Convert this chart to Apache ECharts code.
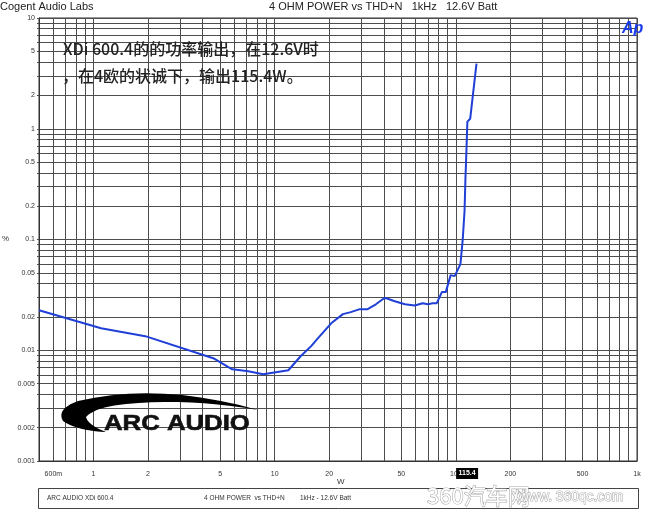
<!DOCTYPE html>
<html>
<head>
<meta charset="utf-8">
<script src="https://cdn.jsdelivr.net/npm/echarts@6/dist/echarts.min.js"></script>
<style>
html,body{margin:0;padding:0;background:#fff;}
#chart{width:650px;height:523px;}
</style>
</head>
<body>
<div id="chart"></div>
<script>
// ---- data ----
const powerW = [0.5, 1.1, 1.93, 4.58, 5.83, 7.15, 8.65, 11.9, 13.9, 15.9, 17.3, 20.5, 23.8, 26.3, 29.5, 32.6, 36.2, 39.6, 41.0, 46, 52.4, 59.3, 65.6, 70, 74.5, 78.5, 83.7, 88, 93.6, 98.5, 106, 109, 111.7, 113, 114.4, 115.8, 120, 130];
const thdPct = [0.023, 0.0158, 0.0134, 0.00847, 0.00673, 0.00646, 0.00607, 0.0066, 0.00883, 0.0109, 0.0128, 0.0175, 0.0212, 0.0221, 0.0235, 0.0235, 0.026, 0.029, 0.0296, 0.0277, 0.026, 0.0254, 0.0266, 0.026, 0.0266, 0.0266, 0.0335, 0.0335, 0.0477, 0.0467, 0.06, 0.097, 0.181, 0.36, 0.632, 1.16, 1.23, 3.87];
const xTickValues = [0.6, 1, 2, 5, 10, 20, 50, 100, 200, 500, 1000];
const xTickLabels = ['600m', '1', '2', '5', '10', '20', '50', '100', '200', '500', '1k'];
const yTickValues = [0.001, 0.002, 0.005, 0.01, 0.02, 0.05, 0.1, 0.2, 0.5, 1, 2, 5, 10];
const yTickLabels = ['0.001', '0.002', '0.005', '0.01', '0.02', '0.05', '0.1', '0.2', '0.5', '1', '2', '5', '10'];
const markerPower = 115.4;
const markerLabel = '115.4';
const titleLeft = 'Cogent Audio Labs';
const titleCenter = '4 OHM POWER vs THD+N   1kHz   12.6V Batt';
const noteLine1 = 'XDi 600.4的的功率输出，在12.6V时';
const noteLine2 = '，在4欧的状诚下，输出115.4W。';
const footerTexts = ['ARC AUDIO XDi 600.4', '4 OHM POWER  vs THD+N', '1kHz - 12.6V Batt'];

// log grid values 1..9 x 10^k
function logGrid(lo, hi) {
  const out = [];
  for (let e = -4; e <= 4; e++) {
    for (let m = 1; m <= 9; m++) {
      const v = +(m * Math.pow(10, e)).toPrecision(6);
      if (v >= lo - 1e-12 && v <= hi + 1e-9) out.push(v);
    }
  }
  return out;
}
const xGrid = logGrid(0.5, 1000);
const yGrid = logGrid(0.001, 10);

// sample quadratic bezier segments into polygon points (logo swoosh)
function quadPoly(start, segs) {
  const pts = [start];
  let p0 = start;
  segs.forEach(([c, p1]) => {
    for (let t = 0.1; t <= 1.0001; t += 0.1) {
      const u = 1 - t;
      pts.push([u * u * p0[0] + 2 * u * t * c[0] + t * t * p1[0], u * u * p0[1] + 2 * u * t * c[1] + t * t * p1[1]]);
    }
    p0 = p1;
  });
  return pts;
}
const swoosh = quadPoly([258, 410], [
  [[160, 382], [78, 401]],
  [[56, 409], [63, 421]],
  [[78, 431], [106, 432]],
  [[88, 425], [86, 417]],
  [[95, 407], [126, 404]],
  [[190, 398], [258, 410]]
]);

const FONT = 'Liberation Sans, Arial, sans-serif';
const GRIDC = '#4d4d4d';

const chart = echarts.init(document.getElementById('chart'), null, {renderer: 'canvas'});
const option = {
  animation: false,
  backgroundColor: '#fff',
  grid: {left: 39, top: 18, right: 13, bottom: 62, show: true, borderColor: '#333', borderWidth: 1},
  xAxis: {
    type: 'log', logBase: 10, min: 0.5, max: 1000,
    axisLine: {show: true, onZero: false, lineStyle: {color: '#333', width: 1}},
    axisTick: {show: false, customValues: xGrid},
    splitLine: {show: true, lineStyle: {color: GRIDC, width: 1}},
    axisLabel: {
      customValues: xTickValues, margin: 10, fontSize: 7, color: '#333', fontFamily: FONT,
      formatter: v => { const i = xTickValues.findIndex(t => Math.abs(t - v) / t < 1e-6); return i >= 0 ? xTickLabels[i] : ''; }
    }
  },
  yAxis: {
    type: 'log', logBase: 10, min: 0.001, max: 10,
    axisLine: {show: true, onZero: false, lineStyle: {color: '#333', width: 1}},
    axisTick: {show: true, length: 2, customValues: yGrid, lineStyle: {color: GRIDC}},
    splitLine: {show: true, lineStyle: {color: GRIDC, width: 1}},
    axisLabel: {
      customValues: yTickValues, margin: 4, fontSize: 7, color: '#333', fontFamily: FONT,
      formatter: v => { const i = yTickValues.findIndex(t => Math.abs(t - v) / t < 1e-6); return i >= 0 ? yTickLabels[i] : ''; }
    }
  },
  series: [{
    type: 'line',
    data: powerW.map((w, i) => [w, thdPct[i]]),
    showSymbol: false,
    lineStyle: {color: '#1f3fd6', width: 2},
    z: 5
  }]
};
chart.setOption(option);

const mp = chart.convertToPixel({gridIndex: 0}, [markerPower, 0.001]);

chart.setOption({
  graphic: [
    {type: 'text', x: 0, y: 1, style: {text: titleLeft, font: '11px ' + FONT, fill: '#222'}},
    {type: 'text', x: 269, y: 1, style: {text: titleCenter, font: '11px ' + FONT, fill: '#222'}},
    {type: 'text', x: 2, y: 235, style: {text: '%', font: '8px ' + FONT, fill: '#333'}},
    {type: 'text', x: 337, y: 478, style: {text: 'W', font: '8px ' + FONT, fill: '#333'}},
    {type: 'text', x: 63, y: 41, z: 10, style: {text: noteLine1, font: '500 16px "Noto Sans CJK SC", sans-serif', fill: '#222'}},
    {type: 'text', x: 62, y: 68, z: 10, style: {text: noteLine2, font: '500 16px "Noto Sans CJK SC", sans-serif', fill: '#222'}},
    {type: 'text', x: 622, y: 21, z: 10, style: {text: 'Ap', font: 'italic bold 16px ' + FONT, fill: '#1a3be8'}},
    // marker box on x axis
    {type: 'rect', z: 20, shape: {x: mp[0] - 11, y: mp[1] + 7, width: 22, height: 11}, style: {fill: '#000'}},
    {type: 'text', z: 21, x: mp[0], y: mp[1] + 12.5, style: {text: markerLabel, font: 'bold 7px ' + FONT, fill: '#fff', align: 'center', verticalAlign: 'middle'}},
    // footer box
    {type: 'rect', shape: {x: 38.5, y: 488.5, width: 600, height: 20}, style: {fill: 'none', stroke: '#444', lineWidth: 1}},
    {type: 'text', x: 47, y: 495, style: {text: footerTexts[0], font: '6.5px ' + FONT, fill: '#333'}},
    {type: 'text', x: 204, y: 495, style: {text: footerTexts[1], font: '6.5px ' + FONT, fill: '#333'}},
    {type: 'text', x: 300, y: 495, style: {text: footerTexts[2], font: '6.5px ' + FONT, fill: '#333'}},
    // watermark
    {type: 'text', x: 427, y: 485, z: 30, style: {text: '360汽车网', font: '22px "Noto Sans CJK SC", sans-serif', fill: '#fff', stroke: '#aaa', lineWidth: 1.2}},
    {type: 'text', x: 519, y: 489, z: 30, scaleX: 0.92, style: {text: 'www. 360qc.com', font: '15px ' + FONT, fill: '#fff', stroke: '#aaa', lineWidth: 1.2}},
    // ARC AUDIO logo
    {type: 'polygon', z: 10, shape: {points: swoosh}, style: {fill: '#000'}},
    {type: 'text', z: 10, x: 104, y: 413, scaleX: 1.17, style: {text: 'ARC AUDIO', font: '900 22px ' + FONT, fill: '#111', stroke: '#111', lineWidth: 0.6}}
  ]
});
</script>
</body>
</html>
